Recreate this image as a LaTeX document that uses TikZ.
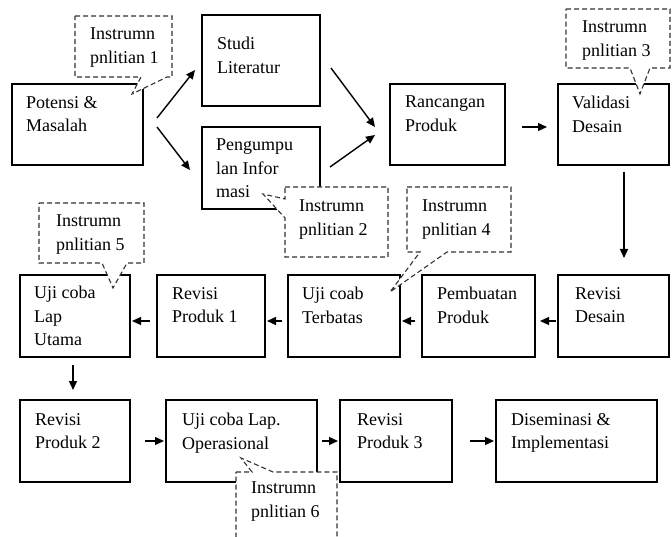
\documentclass[tikz,border=0pt]{standalone}
\usepackage{fontspec}
\setmainfont{Liberation Serif}
\usetikzlibrary{arrows.meta}
\begin{document}
\begin{tikzpicture}[x=1pt,y=-1pt,
  stepbox/.style={draw=black, line width=1.3pt, anchor=north west, inner sep=0pt, outer sep=0pt},
  txt/.style={font=\fontsize{18pt}{23.5pt}\selectfont, align=left, inner sep=0pt, anchor=north west},
  arr/.style={line width=1.4pt, -{Triangle[length=9pt,width=8pt]}},
  callbox/.style={draw=black!80, fill=white, line width=1.1pt, dash pattern=on 5pt off 3pt}]
\useasboundingbox (0,0) rectangle (672,537);

% process boxes
\node[stepbox, minimum width=131pt, minimum height=81pt] (pot)   at (12,84)  {};
\node[stepbox, minimum width=118pt, minimum height=91pt] (studi) at (202,15) {};
\node[stepbox, minimum width=118pt, minimum height=82pt] (peng)  at (202,127) {};
\node[stepbox, minimum width=115pt, minimum height=81pt] (ranc)  at (390,84) {};
\node[stepbox, minimum width=111pt, minimum height=81pt] (valid) at (558,84) {};
\node[stepbox, minimum width=111pt, minimum height=82pt] (rdes)  at (558,275) {};
\node[stepbox, minimum width=113pt, minimum height=82pt] (pemb)  at (422,275) {};
\node[stepbox, minimum width=112pt, minimum height=82pt] (ujit)  at (288,275) {};
\node[stepbox, minimum width=108pt, minimum height=82pt] (rp1)   at (157,275) {};
\node[stepbox, minimum width=110pt, minimum height=82pt] (uju)   at (20,275) {};
\node[stepbox, minimum width=110pt, minimum height=82pt] (rp2)   at (20,400) {};
\node[stepbox, minimum width=151pt, minimum height=82pt] (ujo)   at (166,400) {};
\node[stepbox, minimum width=112pt, minimum height=82pt] (rp3)   at (340,400) {};
\node[stepbox, minimum width=161pt, minimum height=82pt] (dis)   at (496,400) {};

% box texts
\node[txt] (pot-t)   at (26,96)   {Potensi \&\\Masalah};
\node[txt] (studi-t) at (217,37)  {Studi\\Literatur};
\node[txt] (peng-t)  at (216,139) {Pengumpu\\lan Infor\\masi};
\node[txt] (ranc-t)  at (405,96)  {Rancangan\\Produk};
\node[txt] (valid-t) at (572,96)  {Validasi\\Desain};
\node[txt] (rdes-t)  at (575,287) {Revisi\\Desain};
\node[txt] (pemb-t)  at (437,287) {Pembuatan\\Produk};
\node[txt] (ujit-t)  at (302,287) {Uji coab\\Terbatas};
\node[txt] (rp1-t)   at (172,287) {Revisi\\Produk 1};
\node[txt] (uju-t)   at (34,286)  {Uji coba\\Lap\\Utama};
\node[txt] (rp2-t)   at (35,413)  {Revisi\\Produk 2};
\node[txt] (ujo-t)   at (182,413) {Uji coba Lap.\\Operasional};
\node[txt] (rp3-t)   at (357,413) {Revisi\\Produk 3};
\node[txt] (dis-t)   at (511,413) {Diseminasi \&\\Implementasi};

% diagonal connector ends
\coordinate (a1s) at (157,118); \coordinate (a1e) at (195,70);
\coordinate (a2s) at (157,127); \coordinate (a2e) at (190,170);
\coordinate (a3s) at (331,68);  \coordinate (a3e) at (375,127);
\coordinate (a4s) at (330,167); \coordinate (a4e) at (375,135);

% connectors
\draw[arr] (a1s) -- (a1e);
\draw[arr] (a2s) -- (a2e);
\draw[arr] (a3s) -- (a3e);
\draw[arr] (a4s) -- (a4e);
\draw[arr, shorten <=17pt, shorten >=11pt] ([yshift=-2.5pt]ranc.east) -- ([yshift=-2.5pt]valid.west);
\draw[arr, shorten <=7pt, shorten >=17pt] ([xshift=10.5pt]valid.south) -- ([xshift=10.5pt]rdes.north);
\draw[arr, shorten <=2pt, shorten >=5pt] ([yshift=-5pt]rdes.west) -- ([yshift=-5pt]pemb.east);
\draw[arr, shorten <=7pt, shorten >=2pt] ([yshift=-5pt]pemb.west) -- ([yshift=-5pt]ujit.east);
\draw[arr, shorten <=6pt, shorten >=2pt] ([yshift=-5pt]ujit.west) -- ([yshift=-5pt]rp1.east);
\draw[arr, shorten <=7pt, shorten >=2pt] ([yshift=-5pt]rp1.west) -- ([yshift=-5pt]uju.east);
\draw[arr, shorten <=8pt, shorten >=10pt] ([xshift=-2pt]uju.south) -- ([xshift=-2pt]rp2.north);
\draw[arr, shorten <=15pt, shorten >=2pt] (rp2.east) -- (ujo.west);
\draw[arr, shorten <=5pt, shorten >=2pt] (ujo.east) -- (rp3.west);
\draw[arr, shorten <=18pt, shorten >=2pt] (rp3.east) -- (dis.west);

% dashed instrument callouts
\path[callbox] (75,16) -- (172,16) -- (172,77) -- (167,77) -- (132,94) -- (141,77) -- (75,77) -- cycle;
\node[txt] (c1) at (90,28) {Instrumn\\pnlitian 1};

\path[callbox] (285,187) -- (388,187) -- (388,257) -- (285,257) -- (285,218) -- (263,194) -- (285,199) -- cycle;
\node[txt] (c2) at (299,200) {Instrumn\\pnlitian 2};

\path[callbox] (566,9) -- (670,9) -- (670,68) -- (650,68) -- (640,94) -- (630,68) -- (566,68) -- cycle;
\node[txt] (c3) at (582,21) {Instrumn\\pnlitian 3};

\path[callbox] (407,187) -- (511,187) -- (511,252) -- (447,252) -- (390,292) -- (420,252) -- (407,252) -- cycle;
\node[txt] (c4) at (422,200) {Instrumn\\pnlitian 4};

\path[callbox] (39,203) -- (144,203) -- (144,263) -- (127,263) -- (113,288) -- (102,263) -- (39,263) -- cycle;
\node[txt] (c5) at (56,215) {Instrumn\\pnlitian 5};

\path[callbox] (236,472) -- (252,472) -- (241,458) -- (273,472) -- (337,472) -- (337,552) -- (236,552) -- cycle;
\node[txt] (c6) at (251,482) {Instrumn\\pnlitian 6};
\end{tikzpicture}
\end{document}
